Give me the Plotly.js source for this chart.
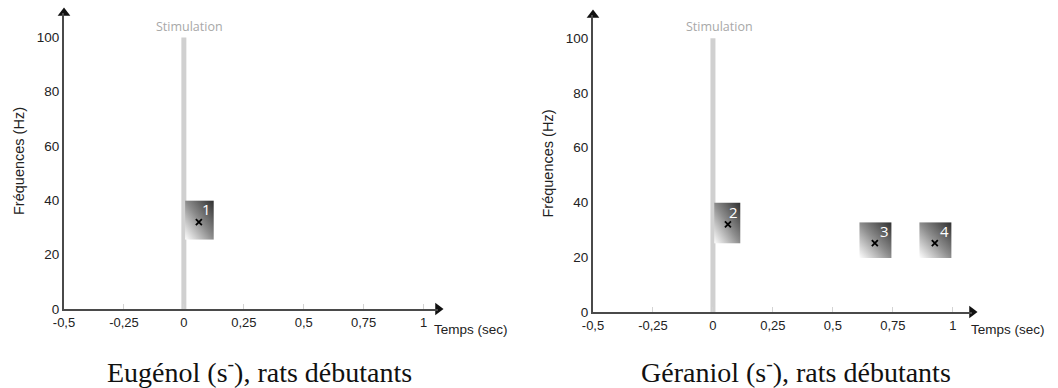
<!DOCTYPE html>
<html><head><meta charset="utf-8">
<script src="https://cdn.plot.ly/plotly-3.0.1.min.js"></script>
<style>html,body{margin:0;padding:0;background:#fff}#chart{width:1058px;height:388px}</style>
</head><body><div id="chart"></div>
<script>
// ---- data ----
const xTickVals = [-0.5, -0.25, 0, 0.25, 0.5, 0.75, 1];
const xTickText = ['-0,5', '-0,25', '0', '0,25', '0,5', '0,75', '1'];
const yTickVals = [0, 20, 40, 60, 80, 100];
const stimTime = 0;
const stimTop = 100;
// left panel (Eugénol) responses
const eugLabels = ['1'];
const eugX0 = [0.005];
const eugX1 = [0.125];
const eugY0 = [25.5];
const eugY1 = [40];
const eugPeakX = [0.0625];
const eugPeakY = [32];
// right panel (Géraniol) responses
const gerLabels = ['2', '3', '4'];
const gerX0 = [0.005, 0.61, 0.86];
const gerX1 = [0.115, 0.745, 0.995];
const gerY0 = [25, 19.7, 19.7];
const gerY1 = [40, 32.8, 32.8];
const gerPeakX = [0.0625, 0.675, 0.925];
const gerPeakY = [32, 25.2, 25.2];
const titles = ['Eugénol (s<sup>-</sup>), rats débutants', 'Géraniol (s<sup>-</sup>), rats débutants'];

// ---- style ----
const W = 1058, H = 388;
const sans = 'Liberation Sans, Arial, sans-serif';
const axisCol = '#4a4a4a';
const svg = "<svg xmlns='http://www.w3.org/2000/svg' width='100' height='100' preserveAspectRatio='none'>" +
  "<defs><linearGradient id='g' x1='0' y1='1' x2='1' y2='0'>" +
  "<stop offset='0' stop-color='#ffffff'/><stop offset='0.5' stop-color='#8c8c8c'/><stop offset='1' stop-color='#2f2f2f'/>" +
  "</linearGradient></defs><rect width='100' height='100' fill='url(#g)'/></svg>";
const gradSrc = 'data:image/svg+xml;charset=utf-8,' + encodeURIComponent(svg);

const panels = [
  {xa: 'x', ya: 'y', labels: eugLabels, x0: eugX0, x1: eugX1, y0: eugY0, y1: eugY1, px: eugPeakX, py: eugPeakY,
   xd: [64 / W, 438 / W], yd: [(H - 309) / H, (H - 13) / H], xr: [-0.5, 1.06], yr: [0, 109],
   stimLabelX: 189, titleX: 259, tempsX: 432},
  {xa: 'x2', ya: 'y2', labels: gerLabels, x0: gerX0, x1: gerX1, y0: gerY0, y1: gerY1, px: gerPeakX, py: gerPeakY,
   xd: [593 / W, 972 / W], yd: [(H - 312) / H, (H - 15) / H], xr: [-0.5, 1.08], yr: [0, 108.5],
   stimLabelX: 719, titleX: 796, tempsX: 969}
];

const traces = [], shapes = [], images = [], annotations = [];
const layout = {
  width: W, height: H, margin: {l: 0, r: 0, t: 0, b: 0},
  paper_bgcolor: '#fff', plot_bgcolor: 'rgba(0,0,0,0)', showlegend: false,
  font: {family: sans, size: 13, color: '#222'}
};

panels.forEach((p, i) => {
  const sfx = i === 0 ? '' : '2';
  layout['xaxis' + sfx] = {
    domain: p.xd, range: p.xr, anchor: p.ya, showgrid: false, zeroline: false,
    showline: true, linecolor: axisCol, linewidth: 2,
    tickmode: 'array', tickvals: xTickVals, ticktext: xTickText,
    ticks: 'inside', ticklen: 5, tickcolor: '#d4d4d4', tickwidth: 1,
    tickfont: {family: sans, size: 13, color: '#222'}, fixedrange: true
  };
  layout['yaxis' + sfx] = {
    domain: p.yd, range: p.yr, anchor: p.xa, showgrid: false, zeroline: false,
    showline: true, linecolor: axisCol, linewidth: 2,
    tickmode: 'array', tickvals: yTickVals, ticks: '',
    tickfont: {family: sans, size: 13.5, color: '#222'}, fixedrange: true,
    title: {text: 'Fréquences (Hz)', font: {family: sans, size: 14.5, color: '#222'}, standoff: 9}
  };
  // arrowheads at the axis ends
  traces.push({type: 'scatter', mode: 'markers', xaxis: p.xa, yaxis: p.ya, cliponaxis: false, hoverinfo: 'skip',
    x: [p.xr[1]], y: [0], marker: {symbol: 'triangle-right', size: 11, color: '#111'}});
  traces.push({type: 'scatter', mode: 'markers', xaxis: p.xa, yaxis: p.ya, cliponaxis: false, hoverinfo: 'skip',
    x: [-0.5], y: [p.yr[1]], marker: {symbol: 'triangle-up', size: 11, color: '#111'}});
  // stimulation bar
  shapes.push({type: 'line', xref: p.xa, yref: p.ya, x0: stimTime, x1: stimTime, y0: 0, y1: stimTop,
    line: {color: '#d0d0d0', width: 5}, layer: 'below'});
  annotations.push({xref: 'paper', yref: 'paper', x: p.stimLabelX / W, y: (H - 27) / H, xanchor: 'center', yanchor: 'middle',
    text: 'Stimulation', showarrow: false, font: {family: 'Open Sans, sans-serif', size: 12.5, color: '#a8a8a8'}});
  // axis x title
  annotations.push({xref: 'paper', yref: 'paper', x: p.tempsX / W, y: (H - 329) / H, xanchor: 'left', yanchor: 'middle',
    text: 'Temps (sec)', showarrow: false, font: {family: sans, size: 13.5, color: '#222'}});
  // caption
  annotations.push({xref: 'paper', yref: 'paper', x: p.titleX / W, y: (H - 370) / H, xanchor: 'center', yanchor: 'middle',
    text: titles[i], showarrow: false, font: {family: 'Liberation Serif, Times New Roman, serif', size: 28, color: '#111'}});
  // response boxes
  p.labels.forEach((lab, k) => {
    images.push({source: gradSrc, xref: p.xa, yref: p.ya, x: p.x0[k], y: p.y1[k],
      sizex: p.x1[k] - p.x0[k], sizey: p.y1[k] - p.y0[k], sizing: 'stretch',
      xanchor: 'left', yanchor: 'top', layer: 'below'});
    annotations.push({xref: p.xa, yref: p.ya, x: p.x1[k], y: p.y1[k], xanchor: 'right', yanchor: 'top',
      xshift: -1, yshift: 3, text: lab, showarrow: false,
      font: {family: 'Open Sans, sans-serif', size: 15, color: '#fff'}});
  });
  traces.push({type: 'scatter', mode: 'markers', xaxis: p.xa, yaxis: p.ya, x: p.px, y: p.py,
    marker: {symbol: 'x-thin', size: 6, color: '#000', line: {color: '#000', width: 1.8}},
    hoverinfo: 'x+y'});
});

layout.shapes = shapes;
layout.images = images;
layout.annotations = annotations;
Plotly.newPlot('chart', traces, layout, {displayModeBar: false, staticPlot: true});
</script></body></html>
